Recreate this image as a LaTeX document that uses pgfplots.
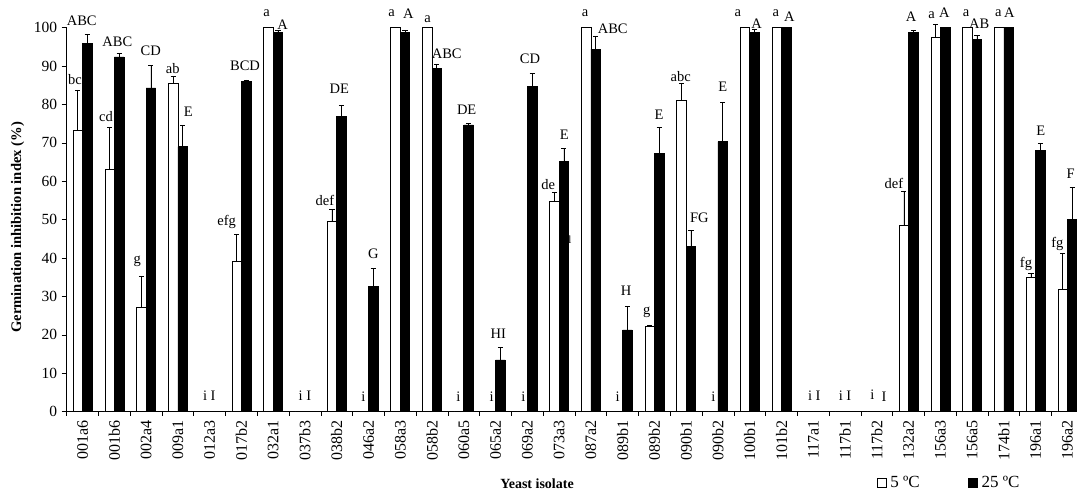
\documentclass[border=0pt]{standalone}
\usepackage{fontspec}
\setmainfont{Liberation Serif}
\usepackage{pgfplots}
\pgfplotsset{compat=1.18}
\newcommand{\lab}{\fontsize{14.5}{16}\selectfont}
\begin{document}
\begin{tikzpicture}[x=1pt,y=1pt]
\begin{axis}[
  at={(0,0)}, anchor=south west,
  scale only axis, width=1010.3pt, height=384pt,
  xmin=-0.5, xmax=31.3, ymin=0, ymax=100,
  clip=false,
  axis lines=left, axis line style={-, line width=0.7pt},
  /pgf/number format/assume math mode=true,
  ytick={0,10,...,100},
  yticklabel style={font=\fontsize{15.5}{17}\selectfont, xshift=-1pt},
  tick align=outside, major tick length=5pt, minor tick length=4pt,
  tick style={line width=0.7pt, black},
  xtick={0,...,31},
  major x tick style={draw=none},
  minor xtick={-0.5,0.5,...,30.5},
  xticklabels={001a6,001b6,002a4,009a1,012a3,017b2,032a1,037b3,038b2,046a2,058a3,058b2,060a5,065a2,069a2,073a3,087a2,089b1,089b2,090b1,090b2,100b1,101b2,117a1,117b1,117b2,132a2,156a3,156a5,174b1,196a1,196a2},
  xticklabel style={rotate=90, anchor=east, font=\fontsize{16}{17}\selectfont, yshift=0pt},
  xlabel={Yeast isolate},
  xlabel style={at={(axis description cs:0.4655,-0.188)}, anchor=center, font=\bfseries\fontsize{14}{16}\selectfont},
  ylabel={Germination inhibition index (\%)},
  ylabel style={at={(axis description cs:-0.0487,0.48)}, anchor=center, font=\bfseries\fontsize{14.6}{16}\selectfont},
  ybar=0pt, bar width=9.5pt,
  error bars/y dir=plus, error bars/y explicit,
  error bars/error bar style={line width=0.7pt, black},
  error bars/error mark options={line width=0.7pt, mark size=2.6pt, rotate=90},
  legend style={at={(axis description cs:0.8023,-0.1854)}, anchor=west, draw=none, fill=none,
     inner sep=0pt, outer sep=0pt, nodes={inner xsep=3.5pt, inner ysep=1pt},
     font=\fontsize{17}{18}\selectfont, legend columns=2, /tikz/every even column/.style={column sep=45pt}},
  legend image code/.code={\draw[#1, line width=0.7pt] (0pt,-4.5pt) rectangle (9pt,4.5pt);},
]
\addplot[draw=black, fill=white, line width=0.7pt] coordinates {
(0,73.3) +- (0,10.5)
(1,63.2) +- (0,10.9)
(2,27.3) +- (0,7.9)
(3,85.5) +- (0,1.9)
(4,0) +- (0,0)
(5,39.1) +- (0,7.1)
(6,100) +- (0,0)
(7,0) +- (0,0)
(8,49.7) +- (0,3.0)
(9,0) +- (0,0)
(10,100) +- (0,0)
(11,100) +- (0,0)
(12,0) +- (0,0)
(13,0) +- (0,0)
(14,0) +- (0,0)
(15,54.9) +- (0,2.2)
(16,100) +- (0,0)
(17,0) +- (0,0)
(18,22.1) +- (0,0.5)
(19,81.2) +- (0,4.3)
(20,0) +- (0,0)
(21,100) +- (0,0)
(22,100) +- (0,0)
(23,0) +- (0,0)
(24,0) +- (0,0)
(25,0) +- (0,0)
(26,48.6) +- (0,8.9)
(27,97.5) +- (0,3.4)
(28,100) +- (0,0)
(29,100) +- (0,0)
(30,34.9) +- (0,1.1)
(31,31.9) +- (0,9.3)
};
\addplot[draw=black, fill=black, line width=0.7pt] coordinates {
(0,95.9) +- (0,2.4)
(1,92.4) +- (0,0.9)
(2,84.3) +- (0,5.8)
(3,69.0) +- (0,5.6)
(4,0) +- (0,0)
(5,86.1) +- (0,0.3)
(6,98.7) +- (0,0.7)
(7,0) +- (0,0)
(8,76.8) +- (0,3.1)
(9,32.6) +- (0,4.7)
(10,98.7) +- (0,0.6)
(11,89.4) +- (0,1.1)
(12,74.7) +- (0,0.4)
(13,13.5) +- (0,3.3)
(14,84.6) +- (0,3.5)
(15,65.1) +- (0,3.5)
(16,94.4) +- (0,3.4)
(17,21.3) +- (0,6.2)
(18,67.3) +- (0,6.7)
(19,43.0) +- (0,4.1)
(20,70.3) +- (0,10.2)
(21,98.7) +- (0,0.8)
(22,100) +- (0,0)
(23,0) +- (0,0)
(24,0) +- (0,0)
(25,0) +- (0,0)
(26,98.7) +- (0,0.7)
(27,100) +- (0,0)
(28,97.0) +- (0,0.9)
(29,100) +- (0,0)
(30,68.1) +- (0,1.8)
(31,50.1) +- (0,8.3)
};
\legend{5 ºC, 25 ºC}
\begin{scope}[every node/.style={font=\lab, inner sep=0pt}]
\node at (axis cs:-0.028,101.8) {ABC};
\node at (axis cs:-0.239,86.6) {bc};
\node at (axis cs:1.093,96.4) {ABC};
\node at (axis cs:0.737,76.8) {cd};
\node at (axis cs:2.144,94.0) {CD};
\node at (axis cs:1.722,39.1) {g};
\node at (axis cs:2.836,89.4) {ab};
\node at (axis cs:3.327,78.1) {E};
\node at (axis cs:3.989,4.1) {i I};
\node at (axis cs:5.112,90.0) {BCD};
\node at (axis cs:4.536,49.5) {efg};
\node at (axis cs:5.795,103.9) {a};
\node at (axis cs:6.299,100.9) {A};
\node at (axis cs:7.0,4.1) {i I};
\node at (axis cs:8.080,84.0) {DE};
\node at (axis cs:7.630,55.1) {def};
\node at (axis cs:8.836,3.9) {i};
\node at (axis cs:9.151,41.25) {G};
\node at (axis cs:9.73,103.75) {a};
\node at (axis cs:10.252,103.6) {A};
\node at (axis cs:10.863,102.2) {a};
\node at (axis cs:11.461,93.2) {ABC};
\node at (axis cs:12.09,78.6) {DE};
\node at (axis cs:11.826,3.9) {i};
\node at (axis cs:13.085,20.4) {HI};
\node at (axis cs:12.877,3.9) {i};
\node at (axis cs:14.083,91.8) {CD};
\node at (axis cs:13.872,3.9) {i};
\node at (axis cs:14.659,59.2) {de};
\node at (axis cs:15.163,72.1) {E};
\node at (axis cs:15.342,44.7) {\fontsize{11}{12}\selectfont l};
\node at (axis cs:15.814,103.9) {a};
\node at (axis cs:16.686,99.8) {ABC};
\node at (axis cs:17.105,31.4) {H};
\node at (axis cs:16.843,3.9) {i};
\node at (axis cs:17.756,25.8) {g};
\node at (axis cs:18.144,77.4) {E};
\node at (axis cs:18.826,87.4) {abc};
\node at (axis cs:19.412,50.4) {FG};
\node at (axis cs:20.148,84.5) {E};
\node at (axis cs:19.853,3.9) {i};
\node at (axis cs:20.621,103.9) {a};
\node at (axis cs:21.219,101.1) {A};
\node at (axis cs:21.817,103.9) {a};
\node at (axis cs:22.245,102.9) {A};
\node at (axis cs:23.032,4.1) {i I};
\node at (axis cs:23.998,4.1) {i I};
\node at (axis cs:24.857,4.5) {i};
\node at (axis cs:25.226,3.9) {I};
\node at (axis cs:26.076,102.9) {A};
\node at (axis cs:25.54,59.5) {def};
\node at (axis cs:26.727,103.3) {a};
\node at (axis cs:27.123,103.9) {A};
\node at (axis cs:27.807,103.9) {a};
\node at (axis cs:28.225,101.0) {AB};
\node at (axis cs:28.823,103.9) {a};
\node at (axis cs:29.169,103.9) {A};
\node at (axis cs:30.158,73.2) {E};
\node at (axis cs:31.102,61.9) {F};
\node at (axis cs:29.695,38.6) {fg};
\node at (axis cs:30.680,43.7) {fg};
\end{scope}
\end{axis}
\pgfresetboundingbox
\useasboundingbox (-66.7,-79.3) rectangle (1010.3,411.7);
\end{tikzpicture}
\end{document}
